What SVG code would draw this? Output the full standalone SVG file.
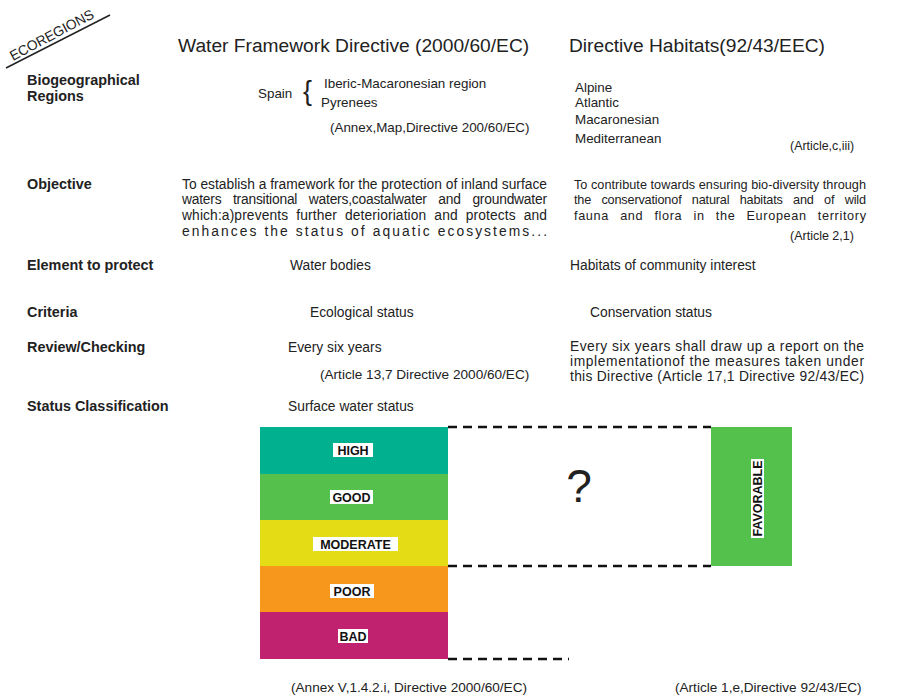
<svg xmlns="http://www.w3.org/2000/svg" width="898" height="697" viewBox="0 0 898 697">
<style>
text{font-family:"Liberation Sans",Arial,sans-serif;fill:#222}
.h{font-size:19.2px}
.lb{font-size:14.4px;font-weight:bold}
.b{font-size:13.8px}
.r{font-size:13.4px}
.o{font-size:12.7px}
.c{font-size:13.6px}
.tag{font-size:12.5px;font-weight:bold;fill:#111}
.dash{stroke:#111;stroke-width:2.5;stroke-dasharray:9 6;fill:none}
</style>
<rect width="898" height="697" fill="#fff"/>
<g id="ecoregions">
<line x1="6" y1="68" x2="110" y2="15" stroke="#222" stroke-width="1.5"/>
<text x="13" y="61" transform="rotate(-28 13 61)" font-size="14" textLength="93" lengthAdjust="spacingAndGlyphs">ECOREGIONS</text>
</g>
<g id="headers">
<text class="h" x="178" y="52">Water Framework Directive (2000/60/EC)</text>
<text class="h" x="569" y="52">Directive Habitats(92/43/EEC)</text>
</g>
<g id="row-biogeo">
<text class="lb" x="27" y="85">Biogeographical</text>
<text class="lb" x="27" y="101">Regions</text>
<text class="r" x="258" y="98">Spain</text>
<text x="303" y="100" font-size="27" font-weight="300">{</text>
<text class="r" x="324" y="88">Iberic-Macaronesian region</text>
<text class="r" x="321" y="107">Pyrenees</text>
<text class="r" x="330" y="132">(Annex,Map,Directive 200/60/EC)</text>
<text class="r" x="575" y="92">Alpine</text>
<text class="r" x="575" y="107">Atlantic</text>
<text class="r" x="575" y="124">Macaronesian</text>
<text class="r" x="575" y="143">Mediterranean</text>
<text x="790" y="150" font-size="12.4">(Article,c,iii)</text>
</g>
<g id="row-objective">
<text class="lb" x="27" y="189">Objective</text>
<text class="b" x="182" y="189" textLength="365" lengthAdjust="spacing">To establish a framework for the protection of inland surface</text>
<text class="b" x="182" y="204" textLength="365" lengthAdjust="spacing" word-spacing="8">waters transitional waters,coastalwater and groundwater</text>
<text class="b" x="182" y="220" textLength="365" lengthAdjust="spacing" word-spacing="4">which:a)prevents further deterioriation and protects and</text>
<text class="b" x="182" y="236" textLength="365" lengthAdjust="spacing">enhances the status of aquatic ecosystems...</text>
<text class="o" x="574" y="189" textLength="292" lengthAdjust="spacing">To contribute towards ensuring bio-diversity through</text>
<text class="o" x="574" y="204" textLength="292" lengthAdjust="spacing" word-spacing="7">the conservationof natural habitats and of wild</text>
<text class="o" x="574" y="220" textLength="292" lengthAdjust="spacing" word-spacing="7">fauna and flora in the European territory</text>
<text x="790" y="240" font-size="12.5">(Article 2,1)</text>
</g>
<g id="row-element">
<text class="lb" x="27" y="270">Element to protect</text>
<text class="b" x="290" y="270">Water bodies</text>
<text class="b" x="570" y="270">Habitats of community interest</text>
</g>
<g id="row-criteria">
<text class="lb" x="27" y="317">Criteria</text>
<text class="b" x="310" y="317">Ecological status</text>
<text class="b" x="590" y="317">Conservation status</text>
</g>
<g id="row-review">
<text class="lb" x="27" y="352">Review/Checking</text>
<text class="b" x="288" y="352">Every six years</text>
<text class="c" x="320" y="379">(Article 13,7 Directive 2000/60/EC)</text>
<text class="b" x="570" y="351" textLength="294" lengthAdjust="spacing">Every six years shall draw up a report on the</text>
<text class="b" x="570" y="366" textLength="294" lengthAdjust="spacing">implementationof the  measures taken under</text>
<text class="b" x="570" y="381" textLength="294" lengthAdjust="spacing">this Directive (Article 17,1 Directive 92/43/EC)</text>
</g>
<g id="row-status">
<text class="lb" x="27" y="411">Status Classification</text>
<text class="b" x="288" y="411">Surface water status</text>
</g>
<g id="wfd-scale">
<rect x="260" y="427" width="188" height="47" fill="#00b08e"/>
<rect x="260" y="474" width="188" height="46" fill="#55c04b"/>
<rect x="260" y="520" width="188" height="46" fill="#e4dc14"/>
<rect x="260" y="566" width="188" height="46" fill="#f7971b"/>
<rect x="260" y="612" width="188" height="47" fill="#c0226f"/>
<rect x="333" y="443" width="40" height="14" fill="#fff"/>
<text class="tag" x="353" y="455" text-anchor="middle">HIGH</text>
<rect x="330" y="490" width="43" height="14" fill="#fff"/>
<text class="tag" x="351.5" y="502" text-anchor="middle">GOOD</text>
<rect x="313" y="537" width="85" height="14" fill="#fff"/>
<text class="tag" x="355.5" y="549" text-anchor="middle">MODERATE</text>
<rect x="330" y="584" width="44" height="14" fill="#fff"/>
<text class="tag" x="352" y="596" text-anchor="middle">POOR</text>
<rect x="338" y="629" width="30" height="14" fill="#fff"/>
<text class="tag" x="353" y="641" text-anchor="middle">BAD</text>
</g>
<g id="habitats-scale">
<rect x="711" y="427" width="81" height="139" fill="#53c14b"/>
<rect x="751" y="459" width="13" height="79" fill="#fff"/>
<text class="tag" x="0" y="0" text-anchor="middle" transform="translate(762 498.5) rotate(-90)">FAVORABLE</text>
</g>
<g id="connectors">
<line class="dash" x1="448" y1="427" x2="711" y2="427"/>
<line class="dash" x1="448" y1="566" x2="711" y2="566"/>
<line class="dash" x1="448" y1="659" x2="569" y2="659"/>
</g>
<text x="579" y="502" font-size="46" text-anchor="middle">?</text>
<g id="footer">
<text class="c" x="291" y="692">(Annex V,1.4.2.i, Directive 2000/60/EC)</text>
<text class="c" x="675" y="692">(Article 1,e,Directive 92/43/EC)</text>
</g>
</svg>
